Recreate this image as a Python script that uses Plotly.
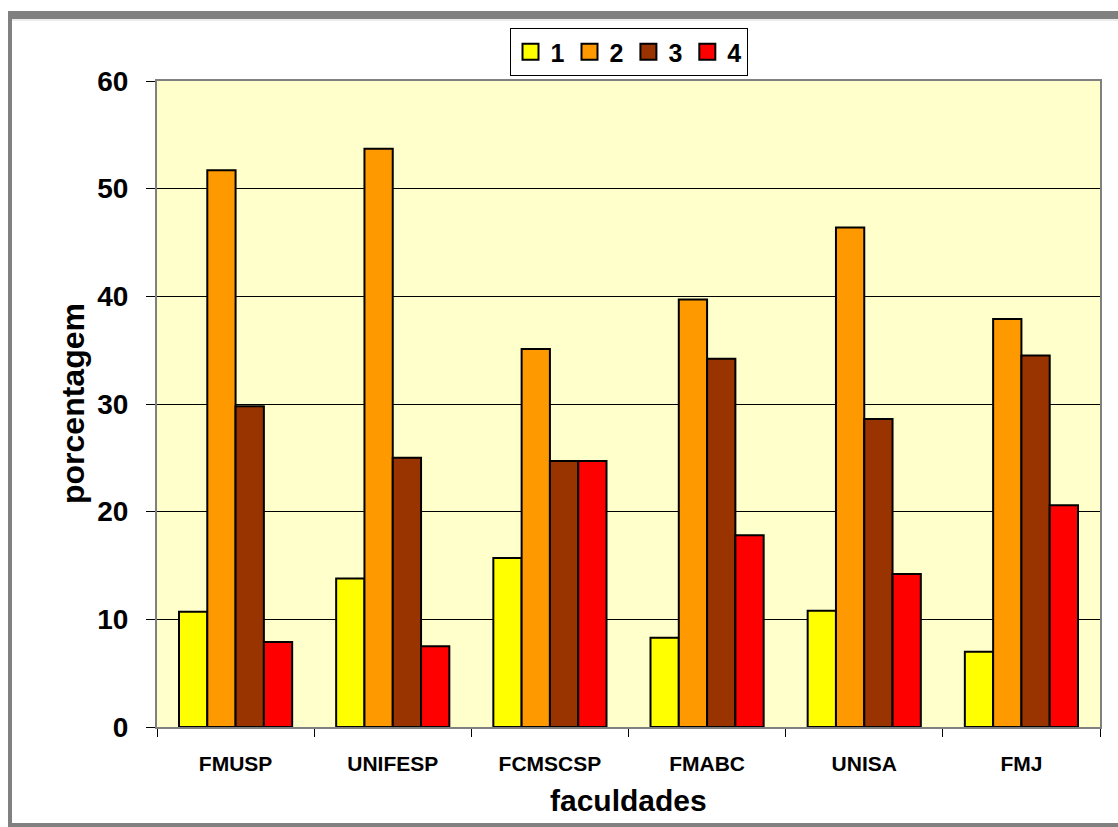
import plotly.graph_objects as go

# Faculties on the x axis and the four response groups
faculdades = ["FMUSP", "UNIFESP", "FCMSCSP", "FMABC", "UNISA", "FMJ"]
grupos = ["1", "2", "3", "4"]

# Percentage per faculty for each group
grupo_1 = [10.7, 13.8, 15.7, 8.3, 10.8, 7.0]
grupo_2 = [51.7, 53.7, 35.1, 39.7, 46.4, 37.9]
grupo_3 = [29.8, 25.0, 24.7, 34.2, 28.6, 34.5]
grupo_4 = [7.9, 7.5, 24.7, 17.8, 14.2, 20.6]

y_ticks = [0, 10, 20, 30, 40, 50, 60]

series = [grupo_1, grupo_2, grupo_3, grupo_4]
cores = ["#FFFF00", "#FF9900", "#993300", "#FF0000"]

FONT = "Liberation Sans, Arial, sans-serif"

W, H = 1118, 827
ML, MR, MT, MB = 157, 18, 81, 100
PW, PH = W - ML - MR, H - MT - MB


def px(x):
    return (x - ML) / PW


def py(y):
    return (H - MB - y) / PH


fig = go.Figure()
for nome, valores, cor in zip(grupos, series, cores):
    fig.add_trace(go.Bar(
        x=faculdades, y=valores, name=nome, legendgroup=nome, showlegend=False,
        marker=dict(color=cor, line=dict(color="#000000", width=2)),
    ))

# square legend keys for the four groups
for nome, cor in zip(grupos, cores):
    fig.add_trace(go.Scatter(
        x=[None], y=[None], mode="markers", name=nome, legendgroup=nome,
        marker=dict(symbol="square", size=16, color=cor,
                    line=dict(color="#000000", width=2)),
    ))

# outer gray frame around the chart area
frame = "#808080"
shapes = [
    dict(type="rect", xref="paper", yref="paper", x0=px(8), x1=px(1130),
         y0=py(19), y1=py(11), fillcolor=frame, line=dict(width=0)),
    dict(type="line", xref="paper", yref="paper", x0=px(12), x1=px(1130),
         y0=py(20), y1=py(20), line=dict(color="#D8D8D8", width=1)),
    dict(type="rect", xref="paper", yref="paper", x0=px(8), x1=px(12),
         y0=py(830), y1=py(11), fillcolor=frame, line=dict(width=0)),
    dict(type="rect", xref="paper", yref="paper", x0=px(8), x1=px(1130),
         y0=py(830), y1=py(823), fillcolor=frame, line=dict(width=0)),
]

annotations = [
    dict(text="porcentagem", xref="paper", yref="paper", x=px(73), y=0.5,
         xanchor="center", yanchor="middle", textangle=-90, showarrow=False,
         font=dict(family=FONT, size=32, color="#000000", weight="bold")),
    dict(text="faculdades", xref="paper", yref="paper", x=0.5, y=py(800),
         xanchor="center", yanchor="middle", showarrow=False,
         font=dict(family=FONT, size=30, color="#000000", weight="bold")),
]

fig.update_layout(
    width=W, height=H,
    margin=dict(l=ML, r=MR, t=MT, b=MB, pad=0),
    paper_bgcolor="#FFFFFF",
    plot_bgcolor="#FFFFCC",
    barmode="group",
    bargap=0.28,
    bargroupgap=0,
    shapes=shapes,
    annotations=annotations,
    legend=dict(
        orientation="h", x=0.5, xanchor="center", y=py(28), yanchor="top",
        bgcolor="#FFFFFF", bordercolor="#000000", borderwidth=1,
        font=dict(family=FONT, size=25, color="#000000", weight="bold"),
        itemwidth=30, traceorder="normal",
    ),
    xaxis=dict(
        type="category", tickson="boundaries", ticks="outside", ticklen=8,
        tickcolor="#000000", showline=True, linecolor="#808080", linewidth=2,
        mirror=True, showgrid=False, ticklabelstandoff=17,
        tickfont=dict(family=FONT, size=21, color="#000000", weight="bold"),
    ),
    yaxis=dict(
        range=[0, 60], tickvals=y_ticks, ticks="outside", ticklen=9,
        tickcolor="#000000", showline=True, linecolor="#808080", linewidth=2,
        mirror=True, showgrid=True, gridcolor="#000000", gridwidth=1,
        zeroline=False, ticklabelstandoff=12,
        tickfont=dict(family=FONT, size=28, color="#000000", weight="bold"),
    ),
)

fig.write_html("out.html")
